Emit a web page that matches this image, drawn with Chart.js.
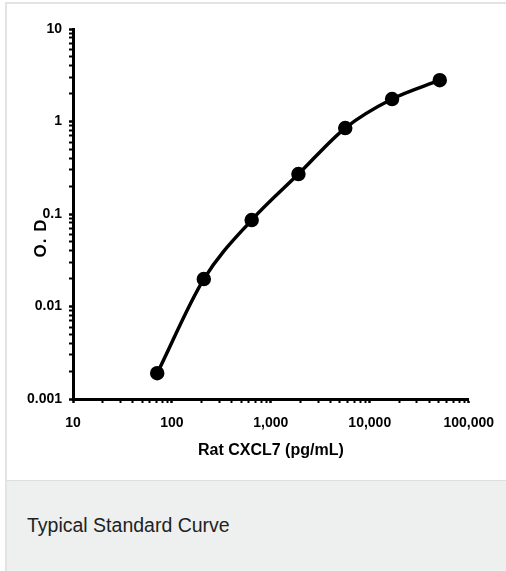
<!DOCTYPE html>
<html>
<head>
<meta charset="utf-8">
<script src="https://cdn.jsdelivr.net/npm/chart.js@4.4.1/dist/chart.umd.min.js"></script>
<style>
  html, body { margin: 0; padding: 0; background: #fff; }
  #card {
    position: absolute; left: 5px; top: 2px; width: 499px; height: 567px;
    border-top: 2px solid #e3e3e3; border-left: 2px solid #e3e3e3;
  }
  #plot { position: relative; width: 499px; height: 476px; }
  #caption {
    height: 57px; padding: 33px 0 0 20px;
    background: #eef0ef; border-top: 1px solid #dedede;
    font: 19.5px "Liberation Sans", Arial, sans-serif; color: #222;
    line-height: 22px;
  }
</style>
</head>
<body>
<div id="card">
  <div id="plot"><canvas id="curve"></canvas></div>
  <div id="caption">Typical Standard Curve</div>
</div>
<script>
// standard curve
const concentrations = [71, 210, 640, 1900, 5650, 16800, 51000];   // pg/mL
const odValues = [0.0019, 0.0198, 0.086, 0.27, 0.85, 1.75, 2.8];

const xDecades = [10, 100, 1000, 10000, 100000];
const xTickLabels = ["10", "100", "1,000", "10,000", "100,000"];
const yDecades = [0.001, 0.01, 0.1, 1, 10];
const yTickLabels = ["0.001", "0.01", "0.1", "1", "10"];

const fontFamily = "'Liberation Sans Narrow', 'Arial Narrow', 'Liberation Sans', Arial, sans-serif";
const tickFont = { family: fontFamily, size: 14, weight: "bold" };

// major ticks at each decade plus 2..9 minor ticks in between
function logTicks(decades) {
  const out = [];
  decades.forEach((d, i) => {
    out.push({ value: d, major: true });
    if (i < decades.length - 1) {
      for (let m = 2; m <= 9; m++) out.push({ value: +(d * m).toPrecision(6), major: false });
    }
  });
  return out;
}

function labelFor(decades, labels) {
  return function (value) {
    const i = decades.findIndex(d => Math.abs(d - value) / d < 1e-6);
    return i >= 0 ? labels[i] : "";
  };
}

// y-axis title sits a little below the middle in the original
const yTitle = {
  id: "yTitle",
  afterDraw(chart) {
    const { ctx, chartArea } = chart;
    ctx.save();
    ctx.translate(chartArea.left - 32, chartArea.top + (chartArea.bottom - chartArea.top) * 0.565);
    ctx.rotate(-Math.PI / 2);
    ctx.font = "bold 17px 'Liberation Sans', Arial, sans-serif";
    ctx.letterSpacing = "1px";
    ctx.fillStyle = "#000";
    ctx.textAlign = "center";
    ctx.textBaseline = "middle";
    ctx.fillText("O. D", 0, 0);
    ctx.restore();
  }
};

const ctx = document.getElementById("curve").getContext("2d");
const chart = new Chart(ctx, {
  type: "line",
  data: {
    datasets: [{
      data: concentrations.map((c, i) => ({ x: c, y: odValues[i] })),
      borderColor: "#000",
      backgroundColor: "#000",
      borderWidth: 3.5,
      pointRadius: 5.5,
      pointHoverRadius: 5.5,
      cubicInterpolationMode: "monotone",
      fill: false
    }]
  },
  options: {
    responsive: true,
    maintainAspectRatio: false,
    animation: false,
    layout: { padding: { top: 25, right: 34, left: 0, bottom: 0 } },
    plugins: { legend: { display: false }, tooltip: { enabled: false } },
    scales: {
      x: {
        type: "logarithmic",
        min: 10,
        max: 100000,
        afterBuildTicks: s => { s.ticks = logTicks(xDecades); },
        afterFit: s => { s.height = 81; },
        border: { display: true, color: "#000", width: 3 },
        grid: {
          drawOnChartArea: false, drawTicks: true, tickLength: 4,
          tickColor: "#000", tickWidth: c => (c.tick && c.tick.major ? 2.5 : 2)
        },
        ticks: {
          autoSkip: false, maxRotation: 0, color: "#000", padding: 12,
          font: tickFont, callback: labelFor(xDecades, xTickLabels)
        },
        title: {
          display: true, text: "Rat CXCL7 (pg/mL)", color: "#000",
          font: { family: fontFamily, size: 16, weight: "bold" },
          padding: { top: 0, bottom: 20 }
        }
      },
      y: {
        type: "logarithmic",
        min: 0.001,
        max: 10,
        afterBuildTicks: s => { s.ticks = logTicks(yDecades); },
        afterFit: s => { s.width = 66; },
        border: { display: true, color: "#000", width: 3 },
        grid: {
          drawOnChartArea: false, drawTicks: true, tickLength: 4,
          tickColor: "#000", tickWidth: c => (c.tick && c.tick.major ? 2.5 : 2)
        },
        ticks: {
          autoSkip: false, color: "#000", padding: 7,
          font: tickFont, callback: labelFor(yDecades, yTickLabels)
        }
      }
    }
  },
  plugins: [yTitle]
});
</script>
</body>
</html>
